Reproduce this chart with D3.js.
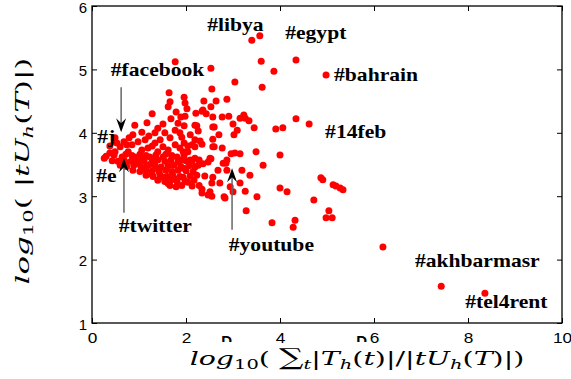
<!DOCTYPE html>
<html>
<head>
<meta charset="utf-8">
<script src="https://cdn.jsdelivr.net/npm/d3@7"></script>
<style>
  body { margin: 0; background: #fff; }
  svg { display: block; }
</style>
</head>
<body>
<div id="chart"></div>
<script>
// tick values
const xTicks = [0, 2, 4, 6, 8, 10];
const yTicks = [1, 2, 3, 4, 5, 6];

// one point per hashtag: [spread ratio, volume]
const hashtagPoints = [
  [3.40, 5.46], [3.57, 5.53], [3.60, 5.13], [3.87, 4.97], [4.34, 5.15], [4.98, 4.91],
  [1.77, 5.12], [2.53, 5.02], [3.04, 4.80], [3.62, 4.72], [2.55, 4.69], [2.87, 4.53],
  [2.38, 4.50], [2.64, 4.50], [2.53, 4.41], [4.34, 4.22], [4.62, 4.14], [3.91, 4.06],
  [4.06, 4.08], [3.45, 4.08], [3.49, 3.70], [4.00, 3.65], [3.64, 3.49], [3.36, 3.33],
  [3.26, 4.23], [3.34, 4.19], [3.15, 4.23], [3.00, 4.14], [3.02, 3.97], [2.70, 3.97],
  [2.60, 4.09], [2.60, 3.78], [2.77, 3.76], [2.77, 4.25], [2.91, 4.26], [2.36, 4.36],
  [2.43, 4.30], [2.23, 4.11], [2.26, 4.03], [2.30, 3.87], [2.34, 3.82], [2.19, 3.78],
  [2.96, 3.67], [3.15, 3.67], [3.04, 3.68], [2.85, 3.52], [2.28, 3.57], [2.36, 3.51],
  [2.47, 3.54], [2.53, 3.59],
  [4.87, 3.29], [4.91, 3.26], [5.13, 3.18], [5.19, 3.16], [5.28, 3.13], [5.34, 3.10],
  [4.00, 3.13], [4.15, 3.07], [4.72, 2.94], [5.04, 2.77], [4.98, 2.66], [5.11, 2.66],
  [4.32, 2.62], [4.28, 2.51], [3.83, 2.58], [3.28, 2.77], [3.51, 2.99], [3.26, 3.08],
  [3.00, 3.07], [6.19, 2.20], [7.43, 1.58], [8.36, 1.47],
  [1.66, 4.49], [2.02, 4.38], [1.96, 4.56], [1.64, 4.63], [1.62, 4.41], [1.79, 4.33],
  [1.28, 4.30], [1.68, 4.22], [1.89, 4.25], [3.23, 4.28], [3.09, 4.04],
  [2.81, 2.99], [2.47, 3.02], [2.55, 3.00], [2.34, 3.05], [2.51, 3.07], [2.34, 3.11],
  [2.83, 2.97], [3.15, 3.21], [2.94, 3.15], [2.72, 3.21], [2.55, 3.21], [2.57, 3.30],
  [2.40, 3.32], [3.19, 3.41], [2.87, 3.41], [2.68, 3.41], [2.79, 3.52], [2.87, 3.57],
  [1.94, 3.44], [1.94, 3.30], [2.04, 3.22], [1.91, 3.57], [2.09, 3.57], [2.26, 3.49],
  [1.98, 4.47], [2.21, 4.31], [2.34, 4.34], [2.57, 4.25], [1.98, 4.26], [1.96, 4.11],
  [2.19, 4.12], [2.57, 4.09], [1.87, 4.00], [2.09, 3.97], [2.19, 3.89], [2.57, 3.90],
  [1.96, 3.84], [2.13, 3.81], [2.04, 3.70], [1.94, 3.70], [2.57, 3.78], [2.19, 3.60],
  [2.51, 3.60],
  [0.91, 4.12], [1.51, 4.14], [1.83, 4.15], [1.34, 4.00], [1.55, 4.00], [0.87, 3.97],
  [1.06, 4.01], [1.77, 4.04], [0.68, 3.86], [0.98, 3.86], [1.13, 3.89], [1.45, 3.89],
  [1.66, 3.92], [1.91, 3.93], [0.53, 3.84], [0.85, 3.81], [1.28, 3.79], [1.77, 3.81],
  [0.49, 3.70], [0.77, 3.70], [1.06, 3.73], [1.40, 3.70], [1.62, 3.73], [1.87, 3.76],
  [0.64, 3.62], [0.91, 3.62], [1.23, 3.62], [1.51, 3.62], [1.81, 3.62],
  [0.30, 3.63], [0.38, 3.68], [0.26, 3.60], [0.49, 3.92],
  [0.47, 3.65], [0.72, 3.66], [0.85, 3.64], [1.02, 3.66], [1.15, 3.64], [1.36, 3.65],
  [1.57, 3.66], [1.70, 3.64], [1.96, 3.65],
  [0.43, 3.56], [0.55, 3.55], [0.68, 3.57], [0.83, 3.55], [0.96, 3.57], [1.11, 3.56],
  [1.28, 3.54], [1.40, 3.57], [1.55, 3.55], [1.68, 3.57], [1.83, 3.54], [2.00, 3.56],
  [2.13, 3.55],
  [0.60, 3.49], [0.74, 3.47], [0.89, 3.49], [1.04, 3.47], [1.17, 3.48], [1.34, 3.49],
  [1.47, 3.46], [1.62, 3.48], [1.74, 3.49], [1.89, 3.47], [2.06, 3.48], [2.19, 3.46],
  [0.87, 3.41], [1.02, 3.39], [1.15, 3.41], [1.28, 3.40], [1.43, 3.38], [1.57, 3.41],
  [1.70, 3.39], [1.83, 3.41], [2.00, 3.40], [2.15, 3.39],
  [1.15, 3.33], [1.30, 3.31], [1.45, 3.33], [1.60, 3.31], [1.72, 3.33], [1.87, 3.31],
  [2.09, 3.32], [2.23, 3.33],
  [1.40, 3.25], [1.55, 3.23], [1.68, 3.25], [1.81, 3.23], [1.98, 3.24], [2.17, 3.25],
  [1.66, 3.17], [1.79, 3.15], [1.91, 3.17], [2.13, 3.16], [2.28, 3.17],
  [0.60, 3.78], [0.74, 3.81], [1.19, 3.76], [1.34, 3.84], [1.51, 3.78], [2.04, 3.79],
  [0.38, 3.79],
  [0.79, 3.92], [1.21, 3.95], [1.40, 4.07], [1.17, 4.16], [1.06, 3.60], [1.30, 3.58],
  [0.98, 3.52], [1.23, 3.50], [1.40, 3.43], [0.72, 3.53], [1.09, 3.44], [1.51, 3.30],
  [1.28, 3.34], [1.75, 3.28], [1.62, 3.20],
];

// hashtag labels, anchored at the start of the baseline
const labelNames = ['#libya', '#egypt', '#bahrain', '#14feb', '#facebook', '#j', '#e',
  '#twitter', '#youtube', '#akhbarmasr', '#tel4rent'];
const labelX = [2.45, 4.11, 5.15, 4.96, 0.40, 0.11, 0.09, 0.57, 2.91, 6.87, 7.94];
const labelY = [5.61, 5.48, 4.82, 3.92, 4.90, 3.84, 3.22, 2.44, 2.14, 1.88, 1.24];

// arrows: [x, tail y, tip y]
const arrows = [
  [0.62, 4.72, 4.01],
  [0.68, 2.74, 3.60],
  [2.98, 2.47, 3.44],
];

const scatterChart = (containerId, width = 571, height = 379) => {
  const margin = { left: 92, right: 9, top: 6, bottom: 56 };

  const x = d3.scaleLinear().domain([0, 10]).range([margin.left, width - margin.right]);
  const y = d3.scaleLinear().domain([1, 6]).range([height - margin.bottom, margin.top]);

  const svg = d3.select(`#${containerId}`)
    .append('svg')
    .attr('width', width)
    .attr('height', height);

  const tickFont = (g) => g.selectAll('text')
    .attr('font-family', '"Liberation Sans", Arial, sans-serif')
    .attr('font-size', 15)
    .attr('fill', '#000');

  // bottom / left with labels, ticks pointing inward
  svg.append('g')
    .attr('transform', `translate(0,${y(1)})`)
    .call(d3.axisBottom(x).tickValues(xTicks).tickFormat(d3.format('d'))
      .tickSizeInner(-5).tickSizeOuter(0).tickPadding(9))
    .call((g) => g.select('.domain').remove())
    .call(tickFont)
    .call((g) => g.selectAll('text').attr('transform', 'scale(1.15,1)'));

  svg.append('g')
    .attr('transform', `translate(${x(0)},0)`)
    .call(d3.axisLeft(y).tickValues(yTicks).tickFormat(d3.format('d'))
      .tickSizeInner(-5).tickSizeOuter(0).tickPadding(5))
    .call((g) => g.select('.domain').remove())
    .call(tickFont)
    .call((g) => g.selectAll('text').attr('dy', '0.4em'));

  svg.append('g')
    .attr('transform', `translate(0,${y(6)})`)
    .call(d3.axisTop(x).tickValues(xTicks).tickSizeInner(-5).tickSizeOuter(0).tickFormat(''))
    .call((g) => g.select('.domain').remove());

  svg.append('g')
    .attr('transform', `translate(${x(10)},0)`)
    .call(d3.axisRight(y).tickValues(yTicks).tickSizeInner(-5).tickSizeOuter(0).tickFormat(''))
    .call((g) => g.select('.domain').remove());

  svg.append('rect')
    .attr('x', x(0))
    .attr('y', y(6))
    .attr('width', x(10) - x(0))
    .attr('height', y(1) - y(6))
    .attr('fill', 'none')
    .attr('stroke', '#000')
    .attr('stroke-width', 1.3);

  // stray glyphs under the x axis (only their top shows)
  svg.append('clipPath').attr('id', 'glyphClip')
    .append('rect').attr('x', 0).attr('y', 0).attr('width', width).attr('height', 342);
  svg.append('g')
    .attr('clip-path', 'url(#glyphClip)')
    .selectAll('text')
    .data([2.75, 5.62])
    .enter()
    .append('text')
    .attr('x', (d) => x(d))
    .attr('y', 346)
    .attr('font-family', '"Liberation Sans", Arial, sans-serif')
    .attr('font-weight', 'bold')
    .attr('font-size', 15)
    .text('D');

  svg.append('g')
    .selectAll('circle')
    .data(hashtagPoints)
    .enter()
    .append('circle')
    .attr('cx', (d) => x(d[0]))
    .attr('cy', (d) => y(d[1]))
    .attr('r', 3.5)
    .attr('fill', '#ff0000');

  // arrows
  const arrowG = svg.append('g');
  arrows.forEach((a) => {
    const x0 = x(a[0]);
    const yTail = y(a[1]);
    const yTip = y(a[2]);
    const dir = yTip > yTail ? 1 : -1;
    arrowG.append('line')
      .attr('x1', x0).attr('x2', x0)
      .attr('y1', yTail).attr('y2', yTip - dir * 6)
      .attr('stroke', '#666')
      .attr('stroke-width', 1.5);
    arrowG.append('path')
      .attr('d', `M${x0},${yTip} L${x0 - 5},${yTip - dir * 14} L${x0},${yTip - dir * 9} L${x0 + 5},${yTip - dir * 14} Z`)
      .attr('fill', '#000');
  });

  svg.append('g')
    .selectAll('text')
    .data(labelNames)
    .enter()
    .append('text')
    .attr('transform', (d, i) => `translate(${x(labelX[i])},${y(labelY[i])}) scale(1.2,1)`)
    .attr('font-family', '"Liberation Serif", "Times New Roman", serif')
    .attr('font-weight', 'bold')
    .attr('font-size', 18)
    .text((d) => d);

  // axis titles, stretched to the width they take in the figure
  const mathFont = '"DejaVu Serif", serif';
  const addParts = (t, parts) => {
    parts.forEach((p) => {
      const s = t.append('tspan').text(p.t);
      if (p.i) s.attr('font-style', 'italic');
      if (p.sub) s.attr('font-size', 13).attr('baseline-shift', '-28%');
      if (p.big) s.attr('font-size', 23);
    });
  };
  const fitTitle = (t, base, span) => {
    const w = t.node().getBBox().width;
    t.attr('transform', `${base} scale(${span / w},1)`);
  };

  const xTitle = svg.append('text')
    .attr('text-anchor', 'middle')
    .attr('font-family', mathFont)
    .attr('font-size', 19);
  addParts(xTitle, [
    { t: 'log', i: true }, { t: '10', sub: true }, { t: '( ' }, { t: '∑', big: true },
    { t: 't', i: true, sub: true }, { t: '|' }, { t: 'T', i: true }, { t: 'h', i: true, sub: true },
    { t: '(' }, { t: 't', i: true }, { t: ')|/|' }, { t: 'tU', i: true },
    { t: 'h', i: true, sub: true }, { t: '(' }, { t: 'T', i: true }, { t: ')|)' },
  ]);
  fitTitle(xTitle, 'translate(357,365)', 335);

  const yTitle = svg.append('text')
    .attr('text-anchor', 'middle')
    .attr('font-family', mathFont)
    .attr('font-size', 19);
  addParts(yTitle, [
    { t: 'log', i: true }, { t: '10', sub: true }, { t: '( |' }, { t: 'tU', i: true },
    { t: 'h', i: true, sub: true }, { t: '(' }, { t: 'T', i: true }, { t: ')|)' },
  ]);
  fitTitle(yTitle, 'translate(29,171) rotate(-90)', 227);
};

scatterChart('chart');
</script>
</body>
</html>
